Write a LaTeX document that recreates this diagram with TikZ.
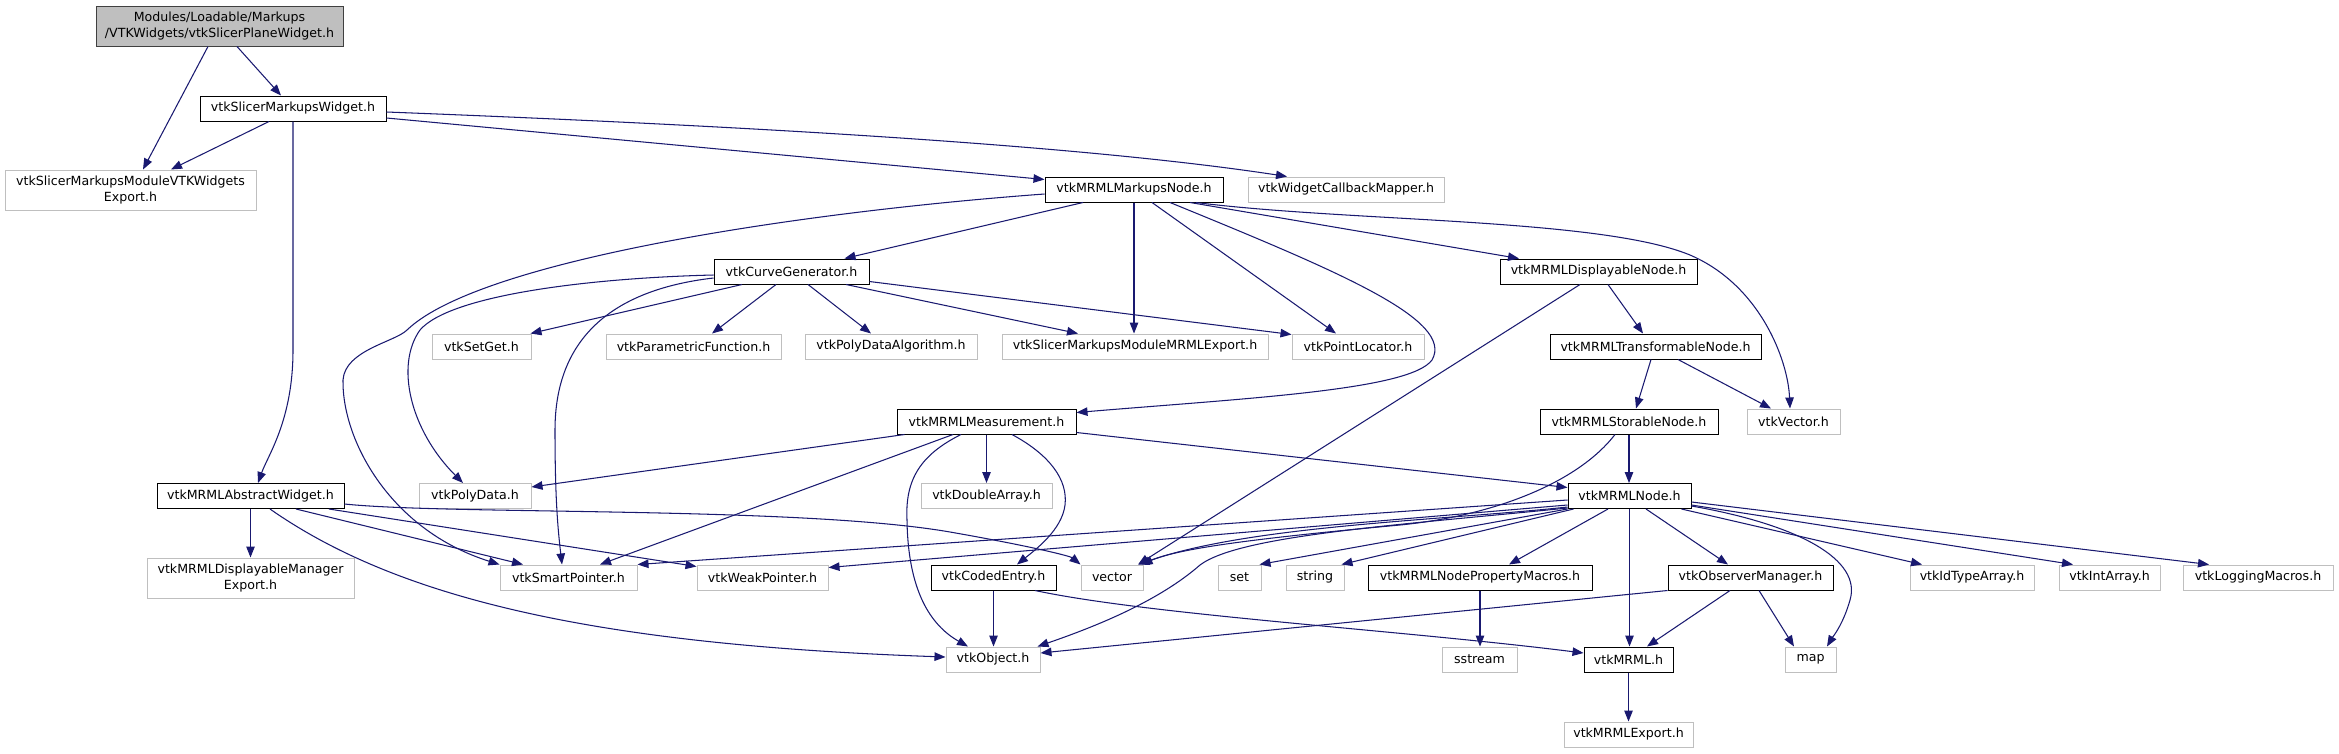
\documentclass[tikz,border=0pt]{standalone}
\usepackage{fontspec}
\newfontfamily\dv{DejaVu Sans}
\usetikzlibrary{arrows.meta,calc}
\definecolor{edgec}{HTML}{191970}
\definecolor{gb}{HTML}{BFBFBF}
\definecolor{rootb}{HTML}{404040}
\tikzset{
 box/.style={draw=black, line width=1pt, fill=white, inner sep=0pt, minimum height=25pt, align=center, font=\dv\fontsize{12.6}{16.5}\selectfont},
 gbox/.style={box, draw=gb},
 rootbox/.style={box, fill=gb, draw=rootb, minimum height=40pt},
 e/.style={draw=edgec, line width=1.05pt, -{Triangle[length=11pt,width=8.5pt]}}
}
\begin{document}
\begin{tikzpicture}[x=1pt,y=-1pt]
\useasboundingbox[fill=white] (0,0) rectangle (2339,753);
% nodes
\node[rootbox, minimum width=247pt] (root) at (219.5,26) {Modules/Loadable/Markups\\/VTKWidgets/vtkSlicerPlaneWidget.h};
\node[box, minimum width=186pt] (smw) at (293,108.5) {vtkSlicerMarkupsWidget.h};
\node[gbox, minimum width=251pt, minimum height=40pt] (vexp) at (130.5,190) {vtkSlicerMarkupsModuleVTKWidgets\\Export.h};
\node[box, minimum width=178pt] (mk) at (1134,189.5) {vtkMRMLMarkupsNode.h};
\node[gbox, minimum width=196pt] (wcm) at (1346,189.5) {vtkWidgetCallbackMapper.h};
\node[box, minimum width=155pt] (cg) at (791.5,271.5) {vtkCurveGenerator.h};
\node[box, minimum width=197pt] (dn) at (1598.5,271.5) {vtkMRMLDisplayableNode.h};
\node[gbox, minimum width=99pt] (sg) at (481.5,346.5) {vtkSetGet.h};
\node[gbox, minimum width=175pt] (pf) at (693.5,346.5) {vtkParametricFunction.h};
\node[gbox, minimum width=172pt] (pda) at (891,346.5) {vtkPolyDataAlgorithm.h};
\node[gbox, minimum width=266pt] (mexp) at (1135,346.5) {vtkSlicerMarkupsModuleMRMLExport.h};
\node[gbox, minimum width=132pt] (pl) at (1358,346.5) {vtkPointLocator.h};
\node[box, minimum width=211pt] (tn) at (1655.5,346.5) {vtkMRMLTransformableNode.h};
\node[box, minimum width=179pt] (meas) at (986.5,421.5) {vtkMRMLMeasurement.h};
\node[box, minimum width=178pt] (sn) at (1629,421.5) {vtkMRMLStorableNode.h};
\node[gbox, minimum width=93pt] (vec) at (1793.5,421.5) {vtkVector.h};
\node[box, minimum width=187pt] (aw) at (250.5,496) {vtkMRMLAbstractWidget.h};
\node[gbox, minimum width=112pt] (pd) at (475,496) {vtkPolyData.h};
\node[gbox, minimum width=131pt] (da) at (986.5,496) {vtkDoubleArray.h};
\node[box, minimum width=123pt] (mn) at (1629.5,496) {vtkMRMLNode.h};
\node[gbox, minimum width=207pt, minimum height=40pt] (dme) at (250.5,578) {vtkMRMLDisplayableManager\\Export.h};
\node[gbox, minimum width=137pt] (sp) at (568.5,577.5) {vtkSmartPointer.h};
\node[gbox, minimum width=131pt] (wp) at (762.5,577.5) {vtkWeakPointer.h};
\node[box, minimum width=125pt] (ce) at (993.5,577.5) {vtkCodedEntry.h};
\node[gbox, minimum width=62pt] (vct) at (1112,577.5) {vector};
\node[gbox, minimum width=43pt] (set) at (1239.5,577.5) {set};
\node[gbox, minimum width=58pt] (str) at (1315,577.5) {string};
\node[box, minimum width=224pt] (npm) at (1480,577.5) {vtkMRMLNodePropertyMacros.h};
\node[box, minimum width=165pt] (om) at (1750.5,577.5) {vtkObserverManager.h};
\node[gbox, minimum width=124pt] (ida) at (1972,577.5) {vtkIdTypeArray.h};
\node[gbox, minimum width=101pt] (ia) at (2109.5,577.5) {vtkIntArray.h};
\node[gbox, minimum width=150pt] (lm) at (2258,577.5) {vtkLoggingMacros.h};
\node[gbox, minimum width=94pt] (obj) at (993,659.5) {vtkObject.h};
\node[gbox, minimum width=75pt] (ss) at (1479.5,659.5) {sstream};
\node[box, minimum width=89pt] (mrml) at (1628.5,659.5) {vtkMRML.h};
\node[gbox, minimum width=51pt] (map) at (1810.5,659.5) {map};
\node[gbox, minimum width=129pt] (mexp2) at (1628.5,734.5) {vtkMRMLExport.h};
% edges
\draw[e] ($(root.south)+(-11.5,0)$) -- ($(vexp.north)+(12.5,0)$);
\draw[e] ($(root.south)+(17.5,0)$) -- ($(smw.north)+(-12,0)$);
\draw[e] ($(smw.south)+(-24,0)$) -- ($(vexp.north)+(40.5,0)$);
\draw[e] ($(smw.east)+(0,9.5)$) -- ($(mk.north west)+(0,3)$);
\draw[e] ($(smw.east)+(0,3.5)$) .. controls (800,128) and (1100,148) .. ($(wcm.north)+(-59,0)$);
\draw[e] (smw.south) -- (293,350) .. controls (293,420) and (268,455) .. ($(aw.north)+(7.5,0)$);
\draw[e] ($(mk.south)+(-51,0)$) -- ($(cg.north)+(53,0)$);
\draw[e] ($(mk.west)+(0,4.5)$) .. controls (800,212) and (480,260) .. (407,330) .. controls (395,342) and (345,350) .. (343,380) .. controls (342,440) and (390,530) .. (sp.north west);
\draw[e] (mk.south) -- (mk.south |- mexp.north);
\draw[e] ($(mk.south)+(18,0)$) -- ($(pl.north)+(-22,0)$);
\draw[e] ($(mk.south)+(36,0)$) .. controls (1340,272) and (1455,320) .. (1432,360) .. controls (1410,390) and (1250,398) .. ($(meas.north east)+(0,4)$);
\draw[e] ($(mk.south)+(56,0)$) -- ($(dn.north)+(-79.5,0)$);
\draw[e] ($(mk.south)+(62,0)$) .. controls (1350,222) and (1600,218) .. (1690,255) .. controls (1760,285) and (1788,360) .. ($(vec.north)+(-3.5,0)$);
\draw[e] ($(cg.south)+(-49.5,0)$) -- ($(sg.north east)+(-1,0)$);
\draw[e] ($(cg.south)+(-15.5,0)$) -- ($(pf.north)+(18.5,0)$);
\draw[e] ($(cg.south)+(16.5,0)$) -- ($(pda.north)+(-20,0)$);
\draw[e] ($(cg.south)+(54.5,0)$) -- ($(mexp.north)+(-57,0)$);
\draw[e] ($(cg.east)+(0,10)$) -- ($(pl.north west)+(0,1)$);
\draw[e] ($(cg.west)+(0,3.5)$) .. controls (590,278) and (450,295) .. (420,330) .. controls (395,365) and (410,430) .. ($(pd.north)+(-12,0)$);
\draw[e] ($(cg.west)+(0,6.5)$) .. controls (610,290) and (555,340) .. (555,430) .. controls (555,500) and (558,530) .. ($(sp.north)+(-6.5,0)$);
\draw[e] ($(dn.south)+(9.5,0)$) -- ($(tn.north)+(-12.5,0)$);
\draw[e] ($(dn.south)+(-18.5,0)$) -- ($(vct.north)+(26,0)$);
\draw[e] ($(tn.south)+(-4.5,0)$) -- ($(sn.north)+(7,0)$);
\draw[e] ($(tn.south)+(22.5,0)$) -- ($(vec.north)+(-22.5,0)$);
\draw[e] (sn.south) -- (sn.south |- mn.north);
\draw[e] ($(sn.south)+(-14,0)$) .. controls (1580,480) and (1500,515) .. (1400,525) .. controls (1260,538) and (1180,548) .. ($(vct.north east)+(-2,0)$);
\draw[e] ($(meas.south west)+(8,0)$) -- ($(pd.east)+(0,-9)$);
\draw[e] ($(meas.south)+(-33.5,0)$) -- ($(sp.north)+(31.5,0)$);
\draw[e] (meas.south) -- (da.north);
\draw[e] ($(meas.south)+(-25.5,0)$) .. controls (920,455) and (905,480) .. (907,520) .. controls (908,590) and (930,625) .. ($(obj.north)+(-25,0)$);
\draw[e] ($(meas.south)+(25.5,0)$) .. controls (1050,455) and (1068,480) .. (1065,505) .. controls (1062,530) and (1035,550) .. ($(ce.north)+(23.5,0)$);
\draw[e] ($(meas.east)+(0,11)$) -- ($(mn.north west)+(0,4.5)$);
\draw[e] (aw.south) -- (dme.north);
\draw[e] ($(aw.south)+(45.5,0)$) -- ($(sp.north)+(-45.5,0)$);
\draw[e] ($(aw.south)+(78.5,0)$) -- ($(wp.north west)+(0,2)$);
\draw[e] ($(aw.south)+(19.5,0)$) .. controls (400,600) and (600,645) .. ($(obj.west)+(0,-2.5)$);
\draw[e] ($(aw.east)+(0,8)$) .. controls (450,515) and (800,506) .. (950,532) .. controls (1030,546) and (1070,556) .. (vct.north west);
\draw[e] ($(mn.west)+(0,4)$) -- (sp.north east);
\draw[e] ($(mn.west)+(0,9)$) -- ($(wp.north east)+(0,3)$);
\draw[e] ($(mn.west)+(0,11)$) .. controls (1450,520) and (1250,525) .. ($(vct.north east)+(-5,0)$);
\draw[e] ($(mn.south west)+(0,-1)$) .. controls (1400,525) and (1240,535) .. (1200,565) .. controls (1160,600) and (1100,625) .. ($(obj.north east)+(-3,0)$);
\draw[e] (mn.south west) -- ($(set.north east)+(-2,0)$);
\draw[e] ($(mn.south west)+(6,0)$) -- ($(str.north east)+(-3,0)$);
\draw[e] ($(mn.south)+(-21.5,0)$) -- ($(npm.north)+(29,0)$);
\draw[e] ($(mn.south)+(16.5,0)$) -- ($(om.north)+(-22.5,0)$);
\draw[e] (mn.south) -- (mn.south |- mrml.north);
\draw[e] ($(mn.east)+(0,10)$) .. controls (1800,525) and (1862,560) .. (1850,600) .. controls (1843,625) and (1832,638) .. ($(map.north)+(16.5,0)$);
\draw[e] ($(mn.south east)+(-10,0)$) -- ($(ida.north)+(-50,0)$);
\draw[e] ($(mn.east)+(0,9)$) -- ($(ia.north)+(-36.5,0)$);
\draw[e] ($(mn.east)+(0,6)$) -- ($(lm.north)+(-49,0)$);
\draw[e] (ce.south) -- (ce.south |- obj.north);
\draw[e] ($(ce.south)+(41.5,0)$) .. controls (1150,615) and (1400,630) .. ($(mrml.west)+(0,-6.5)$);
\draw[e] (npm.south) -- (npm.south |- ss.north);
\draw[e] (om.south west) -- ($(obj.east)+(0,-6.5)$);
\draw[e] ($(om.south)+(-20.5,0)$) -- ($(mrml.north)+(18.5,0)$);
\draw[e] ($(om.south)+(8.5,0)$) -- ($(map.north)+(-16.5,0)$);
\draw[e] (mrml.south) -- (mexp2.north);
\end{tikzpicture}
\end{document}
